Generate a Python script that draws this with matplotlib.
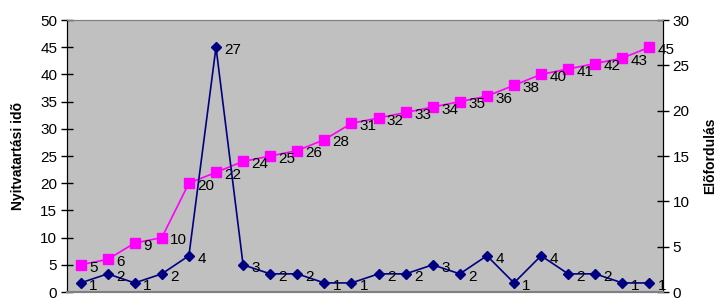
import matplotlib.pyplot as plt
import numpy as np

plt.rcParams['font.family'] = ['Liberation Sans', 'DejaVu Sans']

# Nyitvatartási idő (left axis, magenta squares)
nyitva = [5, 6, 9, 10, 20, 22, 24, 25, 26, 28, 31, 32, 33, 34, 35, 36, 38, 40, 41, 42, 43, 45]
# Előfordulás (right axis, navy diamonds)
elofordulas = [1, 2, 1, 2, 4, 27, 3, 2, 2, 1, 1, 2, 2, 3, 2, 4, 1, 4, 2, 2, 1, 1]
x = np.arange(len(nyitva))

fig = plt.figure(figsize=(7.18, 2.98), dpi=100)
ax1 = fig.add_axes([67 / 718, 1 - 292 / 298, (663 - 67) / 718, (292 - 20) / 298])
ax1.set_facecolor('#C0C0C0')

ax1.plot(x, nyitva, color='#FF00FF', lw=1.2, marker='s', ms=6.5, zorder=3)
for xi, v in zip(x, nyitva):
    ax1.annotate(str(v), (xi, v), xytext=(6, -2), textcoords='offset points',
                 ha='left', va='center', fontsize=11, color='black')

ax1.set_xlim(-0.5, len(nyitva) - 0.5)
ax1.set_ylim(0, 50)
ax1.set_yticks(range(0, 51, 5))
ax1.set_xticks([])
ax1.set_ylabel('Nyitvatartási idõ', fontsize=10, fontweight='bold', labelpad=11)
ax1.tick_params(axis='y', direction='inout', length=8, width=1, labelsize=11, pad=3)

ax2 = ax1.twinx()
ax2.plot(x, elofordulas, color='#000080', lw=1.2, marker='D', ms=5.5, zorder=3)
for xi, v in zip(x, elofordulas):
    ax2.annotate(str(v), (xi, v), xytext=(6, -2), textcoords='offset points',
                 ha='left', va='center', fontsize=11, color='black')
ax2.set_ylim(0, 30)
ax2.set_yticks(range(0, 31, 5))
ax2.set_ylabel('Elõfordulás', fontsize=10, fontweight='bold', labelpad=10)
ax2.tick_params(axis='y', direction='inout', length=8, width=1, labelsize=11, pad=3)

for ax in (ax1, ax2):
    ax.spines['top'].set_color('#808080')
    ax.spines['bottom'].set_color('#808080')
    ax.spines['bottom'].set_linewidth(1.5)
    ax.spines['left'].set_color('black')
    ax.spines['right'].set_color('black')

plt.savefig('out.png', dpi=100)
